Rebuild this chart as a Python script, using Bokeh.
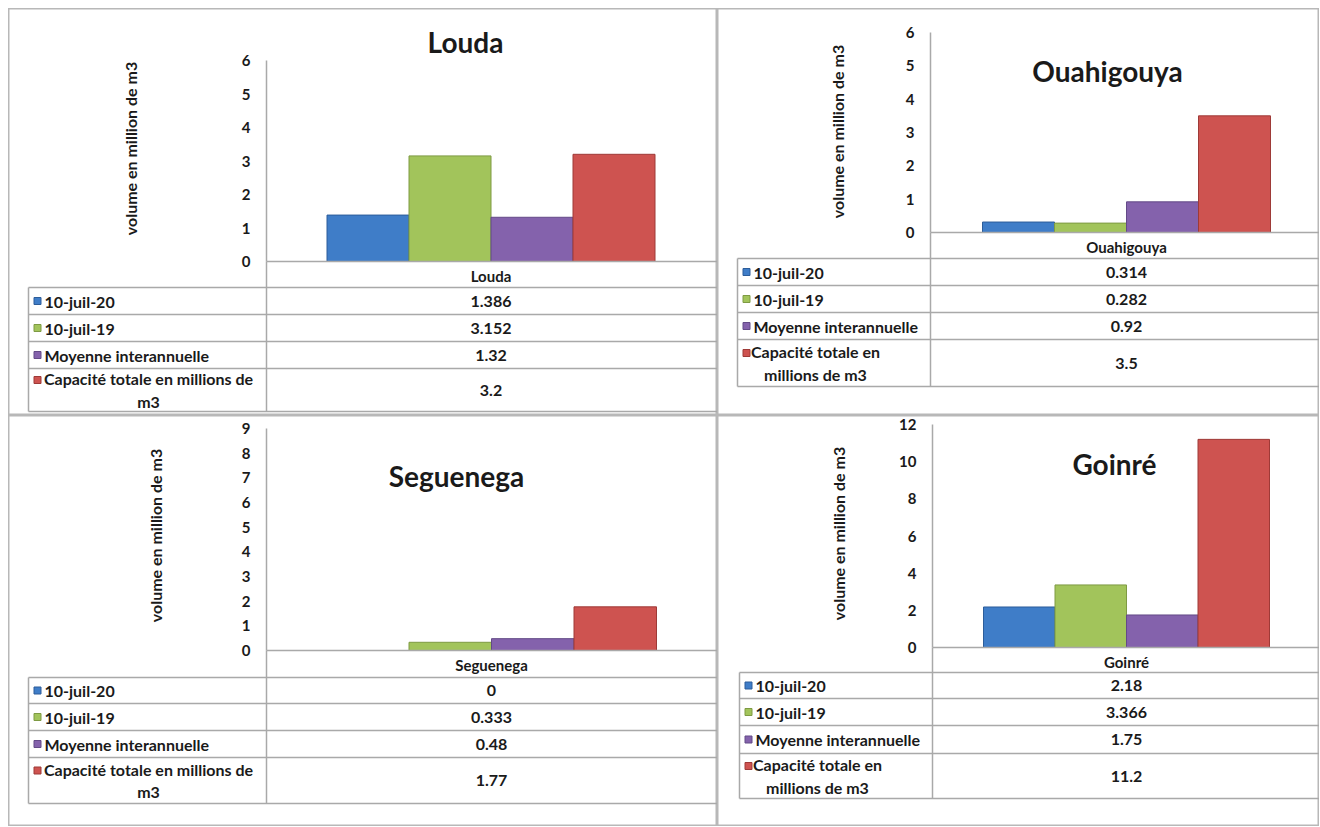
import math
import textwrap
from bokeh.plotting import figure
from bokeh.layouts import column, row
from bokeh.models import Range1d, FixedTicker, ColumnDataSource
from bokeh.core.properties import value
from bokeh.embed import file_html
from bokeh.resources import INLINE

# ---------------- data ----------------
stations = ["Louda", "Ouahigouya", "Seguenega", "Goinré"]
series_names = ["10-juil-20", "10-juil-19", "Moyenne interannuelle",
                "Capacité totale en millions de m3"]
louda_values = [1.386, 3.152, 1.32, 3.2]
ouahigouya_values = [0.314, 0.282, 0.92, 3.5]
seguenega_values = [0, 0.333, 0.48, 1.77]
goinre_values = [2.18, 3.366, 1.75, 11.2]
y_axis_max = [6, 6, 9, 12]
y_axis_step = [1, 1, 1, 2]
y_axis_title = "volume en million de m3"

station_values = [louda_values, ouahigouya_values, seguenega_values, goinre_values]

# ---------------- style / layout ----------------
series_colors = ["#3F7DC8", "#A2C45B", "#8462AC", "#CE5350"]
series_edges = ["#2C5D9A", "#7E9A43", "#634A87", "#9E3A37"]
FONT = "Lato"
TXT = "#1a1a1a"
GRID = "#a9a9a9"

LAYOUT = [
    dict(w=709, h=407, axis_x=258, zero_y=253, top_y=52, col_c=482.5, bar_w=82,
         title=(457, 33), ylab=(122, 140), tbl_left=20,
         rows=[279, 306, 333, 360, 403], wrap=30, multi_c=140),
    dict(w=602, h=407, axis_x=213, zero_y=224, top_y=24, col_c=409, bar_w=72,
         title=(390, 62), ylab=(120, 123), tbl_left=20,
         rows=[250, 277, 304, 331, 378], wrap=21, multi_c=98),
    dict(w=709, h=411, axis_x=258, zero_y=235, top_y=13, col_c=483, bar_w=82.5,
         title=(448, 60), ylab=(147, 120), tbl_left=20,
         rows=[262, 288, 315, 342, 388], wrap=30, multi_c=140),
    dict(w=602, h=411, axis_x=215, zero_y=232, top_y=9, col_c=409, bar_w=71.5,
         title=(397, 48), ylab=(121, 118), tbl_left=22,
         rows=[257, 283, 310, 338, 383], wrap=21, multi_c=100),
]


def make_panel(i):
    L = LAYOUT[i]
    w, h = L["w"], L["h"]
    ymax = y_axis_max[i]
    ppu = (L["zero_y"] - L["top_y"]) / ymax
    p = figure(width=w, height=h, output_backend="svg", toolbar_location=None, tools="",
               x_range=Range1d(0, w),
               y_range=Range1d((L["zero_y"] - h) / ppu, L["zero_y"] / ppu),
               min_border=0)
    p.extra_y_ranges = {"px": Range1d(h, 0)}
    p.grid.visible = False
    p.outline_line_color = "#b8b8b8"
    p.outline_line_width = 2
    p.background_fill_color = "white"
    p.border_fill_color = "white"

    # bars
    vals = station_values[i]
    xs = [L["col_c"] + (k - 1.5) * L["bar_w"] for k in range(len(vals))]
    src = ColumnDataSource(dict(x=xs, top=vals, color=series_colors, edge=series_edges))
    p.vbar(x="x", top="top", bottom=0, width=L["bar_w"], source=src,
           fill_color="color", line_color="edge", line_width=1)

    # y axis
    yax = p.yaxis[0]
    yax.fixed_location = L["axis_x"]
    yax.bounds = (0, ymax)
    yax.ticker = FixedTicker(ticks=list(range(0, ymax + 1, y_axis_step[i])))
    yax.major_tick_out = 0
    yax.major_tick_in = 0
    yax.minor_tick_out = 0
    yax.minor_tick_in = 0
    yax.major_label_standoff = 16
    yax.axis_line_color = GRID
    yax.axis_line_width = 1.5
    yax.major_label_text_font = FONT
    yax.major_label_text_font_style = "bold"
    yax.major_label_text_font_size = "15px"
    yax.major_label_text_color = TXT

    # x axis (baseline + category)
    xax = p.xaxis[0]
    xax.fixed_location = 0
    xax.bounds = (L["axis_x"], w)
    xax.ticker = FixedTicker(ticks=[L["col_c"]])
    xax.major_label_overrides = {L["col_c"]: stations[i], str(L["col_c"]): stations[i]}
    xax.major_tick_out = 0
    xax.major_tick_in = 0
    xax.minor_tick_out = 0
    xax.minor_tick_in = 0
    xax.major_label_standoff = 5
    xax.axis_line_color = GRID
    xax.axis_line_width = 1.5
    xax.major_label_text_font = FONT
    xax.major_label_text_font_style = "bold"
    xax.major_label_text_font_size = "15px"
    xax.major_label_text_color = TXT

    # title and y label
    p.text(x=[L["title"][0]], y=[L["title"][1]], text=[stations[i]], y_range_name="px",
           text_align="center", text_baseline="middle", text_font=value(FONT),
           text_font_style="bold", text_font_size="28px", text_color=TXT)
    p.text(x=[L["ylab"][0]], y=[L["ylab"][1]], text=[y_axis_title], y_range_name="px",
           angle=math.pi / 2, text_align="center", text_baseline="middle",
           text_font=value(FONT), text_font_style="bold", text_font_size="16px",
           text_color=TXT)

    # data table
    lines = L["rows"]
    tl = L["tbl_left"]
    p.segment(x0=[tl] * len(lines), y0=lines, x1=[w] * len(lines), y1=lines,
              y_range_name="px", line_color=GRID, line_width=1.5)
    p.segment(x0=[tl, L["axis_x"]], y0=[lines[0], L["zero_y"]],
              x1=[tl, L["axis_x"]], y1=[lines[-1], lines[-1]],
              y_range_name="px", line_color=GRID, line_width=1.5)

    labels = [textwrap.fill(s, L["wrap"]) for s in series_names]
    centers = [(lines[k] + lines[k + 1]) / 2 for k in range(4)]
    single = [k for k in range(4) if "\n" not in labels[k]]
    multi = [k for k in range(4) if "\n" in labels[k]]
    common = dict(y_range_name="px", text_baseline="middle", text_font=value(FONT),
                  text_font_style="bold", text_font_size="16px", text_color=TXT)
    p.text(x=[tl + 16] * len(single), y=[centers[k] for k in single],
           text=[labels[k] for k in single], text_align="left", **common)
    if multi:
        p.text(x=[L["multi_c"]] * len(multi), y=[centers[k] for k in multi],
               text=[labels[k] for k in multi], text_align="center",
               text_line_height=1.2, **common)
    sq_y = [centers[k] if k in single else centers[k] - 10 for k in range(4)]
    p.scatter(x=[tl + 9] * 4, y=sq_y, marker="square", size=7, y_range_name="px",
              fill_color=series_colors, line_color=series_edges)

    p.text(x=[L["col_c"]] * 4, y=centers, text=[str(v) for v in vals],
           text_align="center", **common)
    return p


panels = [make_panel(i) for i in range(4)]
layout = column(row(panels[0], panels[1]), row(panels[2], panels[3]),
                margin=(8, 0, 0, 8))

open("out.html", "w").write(file_html(layout, INLINE))
